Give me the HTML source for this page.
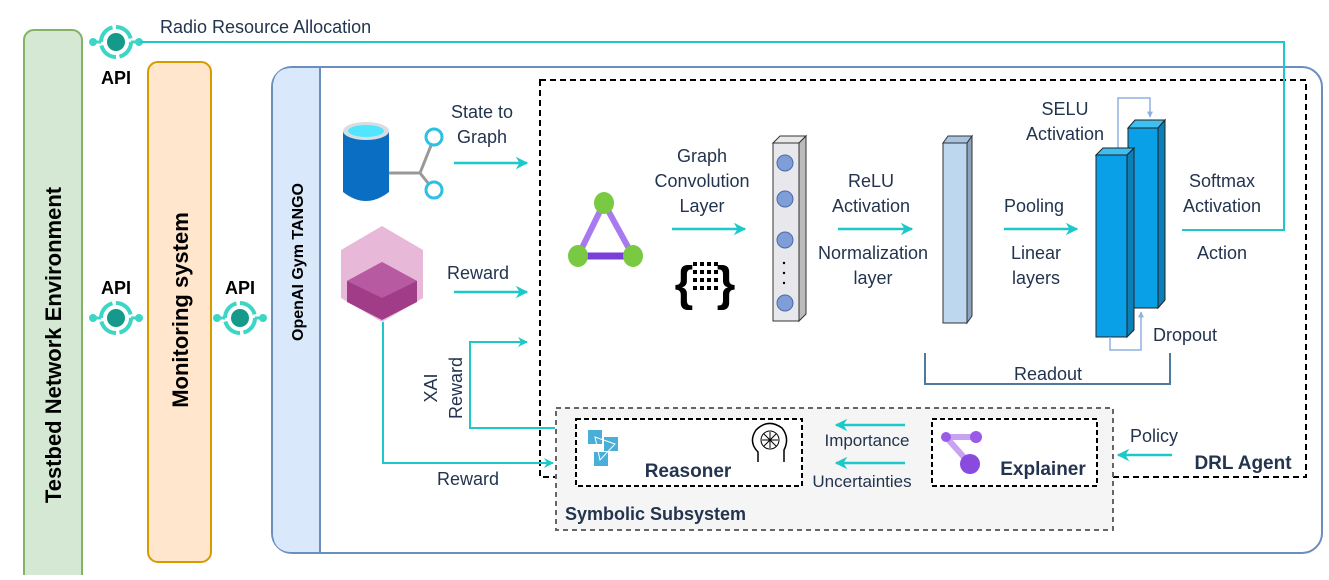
<!DOCTYPE html>
<html><head><meta charset="utf-8"><style>
body{margin:0;background:#fff;width:1329px;height:575px;overflow:hidden}
text{font-family:"Liberation Sans",Arial,sans-serif;fill:#23344f}
.b{font-weight:bold}
</style></head><body>
<svg width="1329" height="575" viewBox="0 0 1329 575" xmlns="http://www.w3.org/2000/svg">
<defs>
<marker id="a" viewBox="0 0 10 10" refX="9" refY="5" markerWidth="5" markerHeight="5" orient="auto"><path d="M0,0L10,5L0,10L3,5z" fill="#1ec8c8"/></marker>
<marker id="s" viewBox="0 0 10 10" refX="9" refY="5" markerWidth="4" markerHeight="4" orient="auto"><path d="M0,0L10,5L0,10z" fill="#8fb0e0"/></marker>
<g id="api"><circle r="15" fill="none" stroke="#3dd6c6" stroke-width="4" stroke-dasharray="20 3.5"/><circle r="9" fill="#14998a"/><circle cx="-23" r="4" fill="#3dd6c6"/><circle cx="23" r="4" fill="#3dd6c6"/><line x1="-20" x2="-15" stroke="#3dd6c6" stroke-width="3"/><line x1="15" x2="20" stroke="#3dd6c6" stroke-width="3"/></g>
</defs>
<rect x="24" y="30" width="58" height="560" rx="10" fill="#d5e8d4" stroke="#82b366" stroke-width="2"/>
<text class="b" font-size="22" style="fill:#000" transform="translate(61,345) rotate(-90)" text-anchor="middle">Testbed Network Environment</text>
<rect x="148" y="62" width="63" height="500" rx="10" fill="#ffe6cc" stroke="#d79b00" stroke-width="2"/>
<text class="b" font-size="22" style="fill:#000" transform="translate(188,310) rotate(-90)" text-anchor="middle">Monitoring system</text>
<text x="160" y="33" font-size="18">Radio Resource Allocation</text>
<use href="#api" x="116" y="42"/>
<text class="b" x="116" y="84" font-size="18" style="fill:#000" text-anchor="middle">API</text>
<use href="#api" x="116" y="318"/>
<text class="b" x="116" y="294" font-size="18" style="fill:#000" text-anchor="middle">API</text>
<use href="#api" x="240" y="318"/>
<text class="b" x="240" y="294" font-size="18" style="fill:#000" text-anchor="middle">API</text>
<rect x="272" y="67" width="1050" height="486" rx="20" fill="#fff" stroke="#6c8ebf" stroke-width="2"/>
<path d="M320,68 L292,68 Q273,68 273,88 L273,532 Q273,552 292,552 L320,552 Z" fill="#dae8fc"/>
<line x1="320" y1="68" x2="320" y2="552" stroke="#6c8ebf" stroke-width="2"/>
<text class="b" font-size="16" style="fill:#000" transform="translate(303,262) rotate(-90)" text-anchor="middle">OpenAI Gym TANGO</text>
<rect x="540" y="80" width="766" height="397" fill="none" stroke="#000" stroke-width="2" stroke-dasharray="6 4"/>
<polyline points="140,42 1284,42 1284,230 1182,230" fill="none" stroke="#1ec8c8" stroke-width="2"/>
<!-- database -->
<path d="M343,132 L343,192 Q366,210 389,192 L389,132 Z" fill="#0a6fc2"/>
<ellipse cx="366" cy="131" rx="23" ry="9" fill="#d8dde3"/>
<ellipse cx="366" cy="131" rx="18" ry="6" fill="#50e6ff"/>
<path d="M389,173 L420,173 M420,173 L432,143 M420,173 L432,188" stroke="#999" stroke-width="3" fill="none"/>
<circle cx="434" cy="137" r="8" fill="#fff" stroke="#2bc0e4" stroke-width="3"/>
<circle cx="434" cy="190" r="8" fill="#fff" stroke="#2bc0e4" stroke-width="3"/>
<text x="482" y="118" font-size="18" text-anchor="middle">State to</text>
<text x="482" y="143" font-size="18" text-anchor="middle">Graph</text>
<line x1="454" y1="163" x2="527" y2="163" stroke="#1ec8c8" stroke-width="2.5" marker-end="url(#a)"/>
<!-- cube -->
<path d="M382,226 L423,250 L423,298 L382,322 L341,298 L341,250 Z" fill="#e8b8d8"/>
<path d="M382,262 L417,281 L417,302 L382,320 L347,302 L347,281 Z" fill="#a03c88"/>
<path d="M382,262 L417,281 L382,298 L347,281 Z" fill="#b85aa2"/>
<text x="478" y="279" font-size="18" text-anchor="middle">Reward</text>
<line x1="454" y1="292" x2="527" y2="292" stroke="#1ec8c8" stroke-width="2.5" marker-end="url(#a)"/>
<polyline points="555,428 470,428 470,342 527,342" fill="none" stroke="#1ec8c8" stroke-width="2" marker-end="url(#a)"/>
<text font-size="18" transform="translate(437,388) rotate(-90)" text-anchor="middle">XAI</text>
<text font-size="18" transform="translate(462,388) rotate(-90)" text-anchor="middle">Reward</text>
<polyline points="383,322 383,463 553,463" fill="none" stroke="#1ec8c8" stroke-width="2" marker-end="url(#a)"/>
<text x="468" y="485" font-size="18" text-anchor="middle">Reward</text>
<!-- triangle -->
<path d="M604,203 L578,256 L633,256 Z" fill="none" stroke="#a77af0" stroke-width="6"/>
<line x1="578" y1="256" x2="633" y2="256" stroke="#7a3fd8" stroke-width="7"/>
<ellipse cx="604" cy="203" rx="10" ry="11" fill="#7ac943"/>
<ellipse cx="578" cy="256" rx="10" ry="11" fill="#7ac943"/>
<ellipse cx="633" cy="256" rx="10" ry="11" fill="#7ac943"/>
<text x="702" y="162" font-size="18" text-anchor="middle">Graph</text>
<text x="702" y="187" font-size="18" text-anchor="middle">Convolution</text>
<text x="702" y="212" font-size="18" text-anchor="middle">Layer</text>
<line x1="672" y1="229" x2="745" y2="229" stroke="#1ec8c8" stroke-width="2.5" marker-end="url(#a)"/>
<text x="684" y="300" font-size="48" font-weight="bold" style="fill:#000" text-anchor="middle">{</text>
<text x="726" y="300" font-size="48" font-weight="bold" style="fill:#000" text-anchor="middle">}</text>
<g fill="#000"><rect x="693" y="262" width="4" height="4"/><rect x="700" y="262" width="4" height="4"/><rect x="707" y="262" width="4" height="4"/><rect x="714" y="262" width="4" height="4"/><rect x="693" y="270" width="4" height="4"/><rect x="700" y="270" width="4" height="4"/><rect x="707" y="270" width="4" height="4"/><rect x="714" y="270" width="4" height="4"/><rect x="693" y="278" width="4" height="4"/><rect x="700" y="278" width="4" height="4"/><rect x="707" y="278" width="4" height="4"/><rect x="714" y="278" width="4" height="4"/><rect x="693" y="286" width="4" height="4"/><rect x="700" y="286" width="4" height="4"/><rect x="707" y="286" width="4" height="4"/><rect x="714" y="286" width="4" height="4"/></g>
<!-- column1 -->
<path d="M773,143 L780,136 L806,136 L799,143 Z" fill="#e8e8e8" stroke="#333"/>
<path d="M799,143 L806,136 L806,314 L799,321 Z" fill="#bbb" stroke="#333"/>
<rect x="773" y="143" width="26" height="178" fill="#e8e8ec" stroke="#333"/>
<g fill="#7f9ed8" stroke="#4a6aa8"><circle cx="785" cy="163" r="8"/><circle cx="785" cy="199" r="8"/><circle cx="785" cy="240" r="8"/><circle cx="785" cy="303" r="8"/></g>
<g fill="#000"><circle cx="784" cy="263" r="1.2"/><circle cx="784" cy="273" r="1.2"/><circle cx="784" cy="283" r="1.2"/></g>
<text x="871" y="187" font-size="18" text-anchor="middle">ReLU</text>
<text x="871" y="212" font-size="18" text-anchor="middle">Activation</text>
<line x1="838" y1="229" x2="912" y2="229" stroke="#1ec8c8" stroke-width="2.5" marker-end="url(#a)"/>
<text x="873" y="259" font-size="18" text-anchor="middle">Normalization</text>
<text x="873" y="284" font-size="18" text-anchor="middle">layer</text>
<!-- column2 -->
<path d="M943,143 L948,136 L972,136 L967,143 Z" fill="#a8c4e0" stroke="#333"/>
<path d="M967,143 L972,136 L972,316 L967,323 Z" fill="#8aa4c0" stroke="#333"/>
<rect x="943" y="143" width="24" height="180" fill="#bdd7ee" stroke="#333"/>
<text x="1034" y="212" font-size="18" text-anchor="middle">Pooling</text>
<line x1="1004" y1="229" x2="1077" y2="229" stroke="#1ec8c8" stroke-width="2.5" marker-end="url(#a)"/>
<text x="1036" y="259" font-size="18" text-anchor="middle">Linear</text>
<text x="1036" y="284" font-size="18" text-anchor="middle">layers</text>
<!-- blue blocks -->
<polyline points="1118,150 1118,98 1150,98 1150,117" fill="none" stroke="#8fb0e0" stroke-width="1.5" marker-end="url(#s)"/>
<path d="M1128,128 L1135,120 L1165,120 L1158,128 Z" fill="#3fbef0" stroke="#222"/>
<path d="M1158,128 L1165,120 L1165,300 L1158,308 Z" fill="#0a7fb8" stroke="#222"/>
<rect x="1128" y="128" width="30" height="180" fill="#0aa0e8" stroke="#222"/>
<path d="M1096,155 L1103,148 L1134,148 L1127,155 Z" fill="#3fbef0" stroke="#222"/>
<path d="M1127,155 L1134,148 L1134,330 L1127,337 Z" fill="#0a7fb8" stroke="#222"/>
<rect x="1096" y="155" width="31" height="182" fill="#0aa0e8" stroke="#222"/>
<polyline points="1110,337 1110,350 1141,350 1141,312" fill="none" stroke="#8fb0e0" stroke-width="1.5" marker-end="url(#s)"/>
<text x="1065" y="115" font-size="18" text-anchor="middle">SELU</text>
<text x="1065" y="140" font-size="18" text-anchor="middle">Activation</text>
<text x="1185" y="341" font-size="18" text-anchor="middle">Dropout</text>
<text x="1222" y="187" font-size="18" text-anchor="middle">Softmax</text>
<text x="1222" y="212" font-size="18" text-anchor="middle">Activation</text>
<text x="1222" y="259" font-size="18" text-anchor="middle">Action</text>
<polyline points="925,353 925,384 1170,384 1170,353" fill="none" stroke="#4f7aa0" stroke-width="2"/>
<text x="1048" y="380" font-size="18" text-anchor="middle">Readout</text>
<!-- symbolic -->
<rect x="556" y="408" width="557" height="122" fill="#f5f5f5" stroke="#666" stroke-width="2" stroke-dasharray="5 4"/>
<text class="b" x="565" y="520" font-size="18">Symbolic Subsystem</text>
<rect x="576" y="419" width="226" height="67" fill="#fff" stroke="#000" stroke-width="2" stroke-dasharray="5 3"/>
<rect x="588" y="430" width="14" height="14" fill="#4aafd8"/><rect x="604" y="437" width="14" height="14" fill="#4aafd8"/><rect x="594" y="452" width="14" height="14" fill="#4aafd8"/>
<path d="M595,437 L615,444 L600,460 Z" fill="none" stroke="#fff" stroke-width="1"/>
<path d="M758,462 L758,452 Q748,442 756,430 Q768,418 782,428 Q790,438 784,450 L784,462" fill="none" stroke="#000" stroke-width="1.5"/>
<circle cx="770" cy="440" r="9" fill="none" stroke="#000" stroke-width="1"/>
<path d="M762,440 L778,440 M770,432 L770,448 M764,434 L776,446 M776,434 L764,446" stroke="#000" stroke-width="1"/>
<text class="b" x="688" y="477" font-size="19" text-anchor="middle">Reasoner</text>
<rect x="932" y="419" width="165" height="67" fill="#fff" stroke="#000" stroke-width="2" stroke-dasharray="5 3"/>
<line x1="946" y1="437" x2="976" y2="437" stroke="#c9a2f2" stroke-width="6"/>
<line x1="946" y1="437" x2="970" y2="464" stroke="#c9a2f2" stroke-width="6"/>
<circle cx="946" cy="437" r="5" fill="#9a5ae8"/><circle cx="976" cy="437" r="6" fill="#9a5ae8"/><circle cx="970" cy="464" r="10" fill="#8a4ae0"/>
<text class="b" x="1043" y="475" font-size="19" text-anchor="middle">Explainer</text>
<line x1="905" y1="425" x2="836" y2="425" stroke="#1ec8c8" stroke-width="2.5" marker-end="url(#a)"/>
<text x="867" y="446" font-size="17" text-anchor="middle">Importance</text>
<line x1="905" y1="463" x2="836" y2="463" stroke="#1ec8c8" stroke-width="2.5" marker-end="url(#a)"/>
<text x="862" y="487" font-size="17" text-anchor="middle">Uncertainties</text>
<line x1="1172" y1="455" x2="1118" y2="455" stroke="#1ec8c8" stroke-width="2.5" marker-end="url(#a)"/>
<text x="1154" y="442" font-size="18" text-anchor="middle">Policy</text>
<text class="b" x="1243" y="469" font-size="19" text-anchor="middle">DRL Agent</text>
</svg>
</body></html>
